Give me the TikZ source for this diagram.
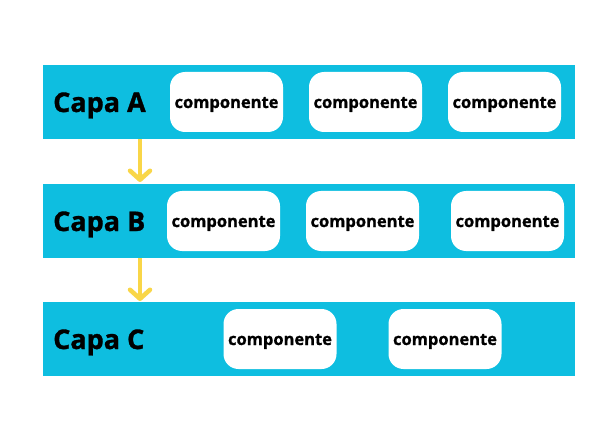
\documentclass[tikz,border=0pt]{standalone}
\usepackage{fontspec}
\setmainfont{Open Sans}[BoldFeatures={FakeBold=1.2}]
\usetikzlibrary{arrows.meta}
\definecolor{bandcyan}{RGB}{14,190,224}
\definecolor{arrowyellow}{RGB}{249,214,72}
\begin{document}
\begin{tikzpicture}[x=1pt,y=-1pt,
  band/.style={fill=bandcyan,draw=none,minimum width=532pt,minimum height=74pt,inner sep=0pt},
  comp/.style={fill=white,draw=none,rounded corners=15pt,minimum width=113pt,minimum height=60pt,inner sep=0pt},
  comptext/.style={font=\fontsize{16.5}{18}\selectfont\bfseries,anchor=base,inner sep=0pt},
  capa/.style={font=\fontsize{27}{32}\selectfont\bfseries,anchor=base west,inner sep=0pt},
  flow/.style={draw=arrowyellow,line width=4.5pt,-{Straight Barb[length=9pt,width=20pt,line cap=round,line join=round]}}
]
\useasboundingbox (0,0) rectangle (600,425);
\fill[white] (0,0) rectangle (600,425);
% bands
\node[band] (bandA) at (309,102) {};
\node[band] (bandB) at (309,221) {};
\node[band] (bandC) at (309,339) {};
% labels
\node[capa] (capaA) at (53,112) {Capa A};
\node[capa] (capaB) at (53,231) {Capa B};
\node[capa] (capaC) at (53,349) {Capa C};
% components
\node[comp] (a1) at (226.5,102) {};
\node[comp] (a2) at (365.5,102) {};
\node[comp] (a3) at (504.5,102) {};
\node[comp] (b1) at (223.5,221) {};
\node[comp] (b2) at (362.5,221) {};
\node[comp] (b3) at (507.5,221) {};
\node[comp] (c1) at (280,339) {};
\node[comp] (c2) at (445,339) {};
\foreach \n/\x/\y in {ta1/226.5/108, ta2/365.5/108, ta3/504.5/108, tb1/223.5/227, tb2/362.5/227, tb3/507.5/227, tc1/280/345, tc2/445/345}
  \node[comptext] (\n) at (\x,\y) {componente};
% arrows
\coordinate (ta) at (140,139);
\coordinate (tb) at (140,182);
\coordinate (tc) at (140,258);
\coordinate (td) at (140,301);
\draw[flow] (ta) -- (tb);
\draw[flow] (tc) -- (td);
\end{tikzpicture}
\end{document}
